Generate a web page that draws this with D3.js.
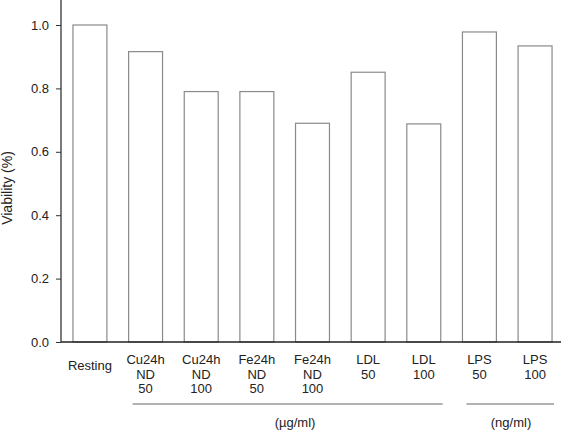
<!DOCTYPE html>
<html>
<head>
<meta charset="utf-8">
<script src="https://cdn.jsdelivr.net/npm/d3@7"></script>
<style>
  body { margin: 0; background: #fff; }
  text { font-family: "Liberation Sans", Arial, sans-serif; fill: #222; }
</style>
</head>
<body>
<svg width="561" height="437"></svg>
<script>
// data
const categories = ["Resting", "Cu24h ND 50", "Cu24h ND 100", "Fe24h ND 50", "Fe24h ND 100", "LDL 50", "LDL 100", "LPS 50", "LPS 100"]
const labelLines = [["Resting"], ["Cu24h", "ND", "50"], ["Cu24h", "ND", "100"], ["Fe24h", "ND", "50"], ["Fe24h", "ND", "100"], ["LDL", "50"], ["LDL", "100"], ["LPS", "50"], ["LPS", "100"]]
const viability = [1.0, 0.916, 0.79, 0.79, 0.69, 0.851, 0.688, 0.978, 0.934]
const yTicks = [0, 0.2, 0.4, 0.6, 0.8, 1.0]
const groups = [
	{label: "(\u00b5g/ml)", from: 1, to: 6},
	{label: "(ng/ml)", from: 7, to: 8}
]

const svg = d3.select("svg")

const x = d3.scaleBand()
	.domain(categories)
	.range([61, 564])
	.paddingInner(0.39)
	.paddingOuter(0.215)

const y = d3.scaleLinear()
	.domain([0, 1.0])
	.range([342, 25])

// bars
svg.append("g")
	.selectAll("rect")
	.data(viability)
	.join("rect")
	  .attr("x", (d, i) => x(categories[i]))
	  .attr("y", d => y(d))
	  .attr("width", x.bandwidth())
	  .attr("height", d => y(0) - y(d))
	  .attr("fill", "#fff")
	  .attr("stroke", "#8a8a8a")
	  .attr("stroke-width", 1.2)

// y axis
const yAxis = svg.append("g")
	.attr("transform", "translate(61,0)")
	.call(d3.axisLeft(y).tickValues(yTicks).tickFormat(d3.format(".1f")).tickSize(5).tickSizeOuter(0))
yAxis.select(".domain").attr("d", "M0,0V342").attr("stroke", "#333").attr("stroke-width", 1.3)
yAxis.selectAll(".tick line").attr("stroke", "#333")
yAxis.selectAll(".tick text")
	.attr("x", -12)
	.style("font-family", "'Liberation Sans', Arial, sans-serif")
	.style("font-size", "13px")
	.attr("fill", "#222")

// x axis line
svg.append("line")
	.attr("x1", 61).attr("x2", 561)
	.attr("y1", y(0)).attr("y2", y(0))
	.attr("stroke", "#222")
	.attr("stroke-width", 1.3)

// category labels
const lab = svg.append("g")
	.selectAll("text")
	.data(labelLines)
	.join("text")
	  .attr("text-anchor", "middle")
	  .attr("font-size", "13px")
	  .attr("x", (d, i) => x(categories[i]) + x.bandwidth() / 2)
	  .attr("y", (d, i) => i === 0 ? 370 : 364)
lab.selectAll("tspan")
	.data(d => d)
	.join("tspan")
	  .attr("x", function(){ return this.parentNode.getAttribute("x") })
	  .attr("dy", (d, j) => j === 0 ? 0 : 14.5)
	  .text(d => d)

// unit group lines
const grp = svg.append("g")
grp.selectAll("line")
	.data(groups)
	.join("line")
	  .attr("x1", d => x(categories[d.from]) + 4)
	  .attr("x2", d => x(categories[d.to]) + x.bandwidth() + 2)
	  .attr("y1", 404).attr("y2", 404)
	  .attr("stroke", "#999")
	  .attr("stroke-width", 1.5)
grp.selectAll("text")
	.data(groups)
	.join("text")
	  .attr("text-anchor", "middle")
	  .attr("font-size", "13px")
	  .attr("x", (d, i) => i === 0 ? 295 : 511)
	  .attr("y", 427)
	  .text(d => d.label)

// y label
svg.append("text")
	.attr("transform", "translate(12,188) rotate(-90)")
	.attr("text-anchor", "middle")
	.attr("font-size", "14px")
	.text("Viability (%)")
</script>
</body>
</html>
